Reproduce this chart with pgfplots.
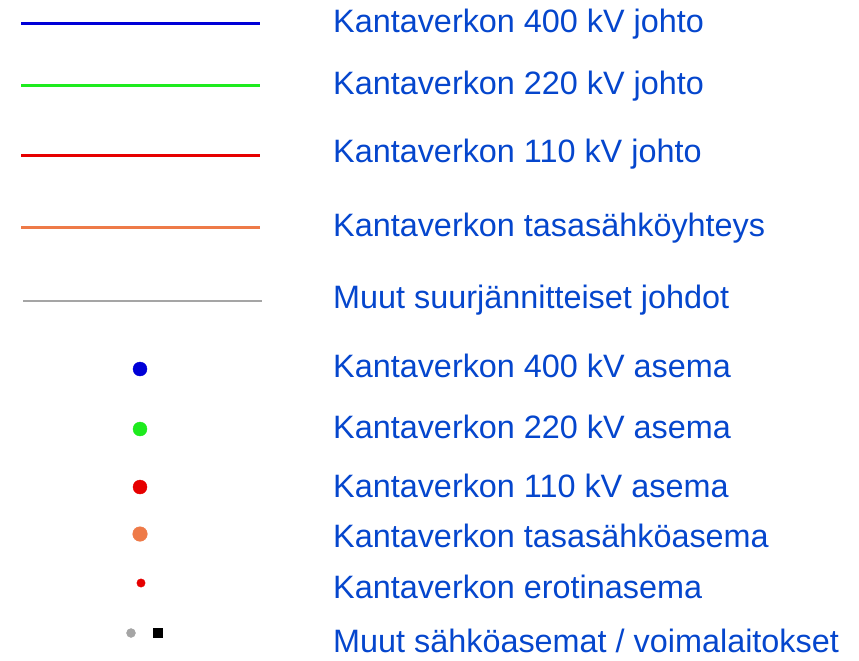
\documentclass[border=0pt]{standalone}
\usepackage{pgfplots}
\pgfplotsset{compat=1.18}
\usepackage{fontspec}
\setmainfont{Liberation Sans}
\definecolor{txtblue}{RGB}{5,70,205}
\definecolor{lblue}{RGB}{0,0,215}
\definecolor{lgreen}{RGB}{30,235,30}
\definecolor{lred}{RGB}{230,0,0}
\definecolor{lorange}{RGB}{238,122,72}
\definecolor{lgray}{RGB}{165,165,165}
\tikzset{lbl/.style={font=\fontsize{32.5}{38}\selectfont, text=txtblue, anchor=base west, inner sep=0pt}}
\begin{document}
\begin{tikzpicture}
\begin{axis}[
  width=859bp, height=661bp, scale only axis,
  xmin=0, xmax=859, ymin=0, ymax=661, y dir=reverse,
  axis line style={draw=none}, xtick=\empty, ytick=\empty, clip=false,
]
% lines
\addplot[lblue, line width=3bp, no marks] coordinates {(21,24) (260,24)};
\addplot[lgreen, line width=3bp, no marks] coordinates {(21,86) (260,86)};
\addplot[lred, line width=3bp, no marks] coordinates {(21,155) (260,155)};
\addplot[lorange, line width=3bp, no marks] coordinates {(21,227) (260,227)};
\addplot[lgray, line width=1.5bp, no marks] coordinates {(23,301) (262,301)};
% station marks
\addplot[only marks, mark=*, mark size=7bp, lblue, mark options={draw=lblue, fill=lblue}] coordinates {(140,369)};
\addplot[only marks, mark=*, mark size=7bp, lgreen, mark options={draw=lgreen, fill=lgreen}] coordinates {(140,429)};
\addplot[only marks, mark=*, mark size=7bp, lred, mark options={draw=lred, fill=lred}] coordinates {(140,487)};
\addplot[only marks, mark=*, mark size=7.3bp, lorange, mark options={draw=lorange, fill=lorange}] coordinates {(140,534)};
\addplot[only marks, mark=*, mark size=4.2bp, lred, mark options={draw=lred, fill=lred}] coordinates {(141,583)};
\addplot[only marks, mark=*, mark size=4.5bp, lgray, mark options={draw=lgray, fill=lgray}] coordinates {(131,633)};
\addplot[only marks, mark=square*, mark size=4.6bp, black, mark options={draw=black, fill=black}] coordinates {(158,633)};
% labels
\node[lbl] at (axis cs:333,33) {Kantaverkon 400 kV johto};
\node[lbl] at (axis cs:333,94) {Kantaverkon 220 kV johto};
\node[lbl] at (axis cs:333,162) {Kantaverkon 110 kV johto};
\node[lbl] at (axis cs:333,236) {Kantaverkon tasasähköyhteys};
\node[lbl] at (axis cs:333,308) {Muut suurjännitteiset johdot};
\node[lbl] at (axis cs:333,377) {Kantaverkon 400 kV asema};
\node[lbl] at (axis cs:333,438) {Kantaverkon 220 kV asema};
\node[lbl] at (axis cs:333,497) {Kantaverkon 110 kV asema};
\node[lbl] at (axis cs:333,547) {Kantaverkon tasasähköasema};
\node[lbl] at (axis cs:333,598) {Kantaverkon erotinasema};
\node[lbl] at (axis cs:333,652) {Muut sähköasemat / voimalaitokset};
\end{axis}
\end{tikzpicture}
\end{document}
